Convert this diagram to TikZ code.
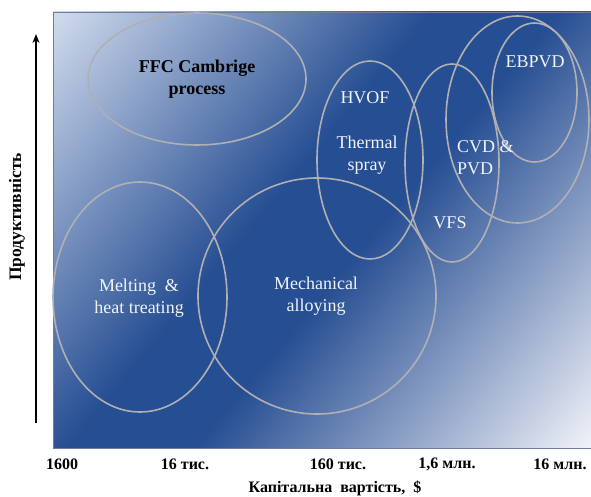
\documentclass[tikz,border=0pt]{standalone}
\usepackage{fontspec}
\setmainfont{Liberation Serif}
\usepackage {tikz}
\usetikzlibrary {positioning}
\usetikzlibrary{arrows.meta}

\definecolor{bgtop}{RGB}{212,222,239}
\definecolor{bgmid}{RGB}{38,78,146}
\definecolor{bgbot}{RGB}{244,245,250}
\definecolor{zonegray}{RGB}{176,176,180}
\definecolor{labwhite}{RGB}{240,243,250}
\definecolor{framegray}{RGB}{110,125,155}
\pgfdeclarehorizontalshading{bgshade}{100bp}{color(0bp)=(bgtop); color(25bp)=(bgtop);
 color(46bp)=(bgmid); color(53bp)=(bgmid); color(75bp)=(bgbot); color(100bp)=(bgbot)}

\begin{document}
\begin{tikzpicture}[x=1pt,y=-1pt,
	zone/.style={draw=zonegray,line width=1.6pt},
	inlabel/.style={text=labwhite,font=\fontsize{18}{22}\selectfont,align=center,inner sep=0pt},
	tick/.style={font=\bfseries\fontsize{16}{18}\selectfont,inner sep=0pt}]
	\useasboundingbox (0,0) rectangle (591,497);
	% background
	\path (322,230) coordinate (bgc);
	\begin{scope}
	\clip (53,12) rectangle (591,448);
	\shade[transform canvas={rotate around={-40:(bgc)}},shading=bgshade]
	 (bgc) +(-350,-350) rectangle +(350,350);
	\end{scope}
	\draw[framegray,line width=0.8pt] (53,12) rectangle (591,448);
	% zones
	\path (197,79) coordinate (ffc)
	 (140,297) coordinate (melt)
	 (317,296) coordinate (mech)
	 (370,160) coordinate (spray)
	 (452,163) coordinate (vfs)
	 (517.5,119.5) coordinate (cvd)
	 (534.5,92.5) coordinate (ebpvd);
	\draw[zone] (ffc) ellipse [x radius=109,y radius=66];
	\draw[zone] (melt) ellipse [x radius=87,y radius=115];
	\draw[zone] (mech) ellipse [x radius=119,y radius=118];
	\draw[zone] (spray) ellipse [x radius=53,y radius=99];
	\draw[zone] (vfs) ellipse [x radius=47,y radius=99];
	\draw[zone] (cvd) ellipse [x radius=71.5,y radius=103.5];
	\draw[zone] (ebpvd) ellipse [x radius=42.5,y radius=69.5];
	% labels
	\node[inlabel,text=black,font=\bfseries\fontsize{18}{22}\selectfont] (ffcL) at (ffc) {FFC Cambrige\\process};
	\node[inlabel] (meltL) at (139,298) {Melting\enspace\&\\heat treating};
	\node[inlabel] (mechL) at (316,296) {Mechanical\\alloying};
	\node[inlabel] (hvofL) at (365,98) {HVOF};
	\node[inlabel] (sprayL) at (367,155) {Thermal\\spray};
	\node[inlabel,align=left,anchor=west] (cvdL) at (457,158) {CVD \&\\PVD};
	\node[inlabel] (ebpvdL) at (535,62) {EBPVD};
	\node[inlabel] (vfsL) at (450,223) {VFS};
	% axes
	\path (36,423) coordinate (yfoot) (36,34) coordinate (ytip);
	\draw[line width=2.2pt,-{Stealth[length=9pt,width=7pt]}] (yfoot) -- (ytip);
	\node[tick,rotate=90,font=\bfseries\fontsize{17.5}{20}\selectfont] (ylab) at (17,217) {Продуктивність};
	\node[tick] (t1) at (62,464) {1600};
	\node[tick] (t2) at (185,464) {16 тис.};
	\node[tick] (t3) at (338,464) {160 тис.};
	\node[tick] (t4) at (447,464) {1,6 млн.};
	\node[tick] (t5) at (560,464) {16 млн.};
	\node[tick] (xlab) at (335,488) {Капітальна\enspace вартість,\enspace\$};
\end{tikzpicture}
\end{document}
